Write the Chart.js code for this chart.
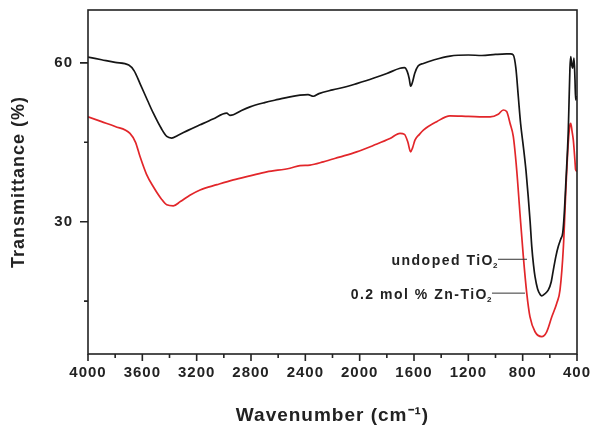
<!DOCTYPE html>
<html>
<head>
<meta charset="utf-8">
<script src="https://cdn.jsdelivr.net/npm/chart.js@4/dist/chart.umd.min.js"></script>
<style>
html, body { margin: 0; padding: 0; background: #fff; }
#wrap { width: 593px; height: 427px; position: relative; }
</style>
</head>
<body>
<div id="wrap"><canvas id="ftir"></canvas></div>
<script>
// tick labels
var xTickValues = [4000, 3600, 3200, 2800, 2400, 2000, 1600, 1200, 800, 400];
var yTickValues = [30, 60];
var yMinorTicks = [15, 45];

// undoped TiO2 (black)
var undopedWn = [4000, 3900, 3800, 3700, 3660, 3617, 3560, 3519, 3460, 3420,
  3384, 3340, 3260, 3175, 3080, 2979, 2955, 2930, 2870, 2807,
  2700, 2600, 2513, 2439, 2380, 2341, 2300, 2200, 2100, 2022,
  1900, 1800, 1703, 1670, 1650, 1635, 1625, 1612, 1595, 1570,
  1531, 1450, 1335, 1200, 1100, 1000, 918, 890, 869, 850,
  832, 815, 795, 775, 759, 745, 733, 720, 709, 690,
  670, 660, 640, 611, 590, 574, 555, 538, 520, 505,
  495, 481, 464, 452, 446, 438, 432, 422, 415, 410,
  402, 400];
var undopedT = [61.1, 60.6, 60.1, 59.6, 58.5, 56.1, 52.8, 50.5, 47.6, 46.1,
  45.8, 46.3, 47.3, 48.3, 49.4, 50.5, 50.1, 50.2, 51.0, 51.7,
  52.5, 53.1, 53.6, 53.9, 54.0, 53.7, 54.2, 54.9, 55.5, 56.1,
  57.1, 58.0, 59.0, 59.1, 58.4, 57.0, 55.6, 56.3, 58.0, 59.4,
  59.9, 60.6, 61.3, 61.5, 61.4, 61.6, 61.7, 61.7, 61.5, 59.0,
  53.6, 48.5, 44.2, 39.5, 34.7, 30.0, 25.3, 21.8, 19.6, 17.3,
  16.2, 16.0, 16.3, 17.1, 18.6, 20.9, 23.5, 25.3, 26.7, 27.9,
  31.0, 37.9, 47.3, 59.0, 61.2, 59.5, 59.0, 60.9, 57.0, 53.0,
  53.6, 53.5];

// 0.2 mol % Zn-TiO2 (red)
var dopedWn = [4000, 3900, 3800, 3691, 3650, 3617, 3570, 3519, 3460, 3420,
  3372, 3320, 3250, 3175, 3050, 2930, 2800, 2684, 2513, 2439,
  2366, 2268, 2150, 2022, 1900, 1777, 1703, 1670, 1645, 1625,
  1610, 1593, 1560, 1531, 1433, 1335, 1200, 1040, 980, 943,
  918, 893, 869, 844, 820, 795, 770, 746, 709, 660,
  623, 586, 549, 525, 500, 481, 464, 452, 446, 436,
  427, 415, 410, 400];
var dopedT = [49.8, 48.9, 48.0, 46.7, 45.0, 42.3, 39.0, 36.6, 34.3, 33.2,
  33.0, 33.8, 35.0, 36.0, 37.0, 37.9, 38.7, 39.4, 40.1, 40.6,
  40.7, 41.3, 42.2, 43.2, 44.4, 45.7, 46.7, 46.5, 45.0, 43.2,
  44.0, 45.4, 46.5, 47.3, 48.9, 50.0, 49.9, 49.8, 50.3, 51.1,
  50.8, 48.6, 46.1, 39.8, 31.6, 23.4, 16.5, 12.0, 9.2, 8.3,
  9.2, 12.0, 14.6, 17.1, 25.3, 36.6, 45.0, 48.3, 48.6, 47.0,
  45.4, 41.5, 39.8, 39.5];

// curve labels and where their pointer lines touch the curves
var curveLabels = ['undoped TiO', '0.2 mol % Zn-TiO'];
var labelAnchorWn = [768, 783];
var labelAnchorT = [22.9, 16.5];

var textColor = '#222';
var fontFamily = '"Liberation Sans", Arial, sans-serif';

function toPoints(xs, ys) {
  var pts = [];
  for (var i = 0; i < xs.length; i++) {
    pts.push({x: xs[i], y: ys[i]});
  }
  return pts;
}

// no extra room for half labels at the ends of the axes
function noEdgePadding(s) {
  s.paddingLeft = 0;
  s.paddingRight = 0;
  s.paddingTop = 0;
  s.paddingBottom = 0;
}

// frame, outward ticks and the curve labels
var axisDecor = {
  id: 'axisDecor',
  beforeLayout: function(chart) { chart.ctx.letterSpacing = '1px'; },
  beforeDraw: function(chart) { chart.ctx.letterSpacing = '1px'; },
  afterDraw: function(chart) {
    var ctx = chart.ctx;
    var area = chart.chartArea;
    var xs = chart.scales.x;
    var ys = chart.scales.y;
    ctx.save();
    ctx.strokeStyle = textColor;
    ctx.lineWidth = 1.6;
    ctx.strokeRect(area.left, area.top, area.right - area.left, area.bottom - area.top);

    ctx.beginPath();
    for (var i = 0; i < xTickValues.length; i++) {
      var px = xs.getPixelForValue(xTickValues[i]);
      ctx.moveTo(px, area.bottom);
      ctx.lineTo(px, area.bottom + 7);
      if (i < xTickValues.length - 1) {
        var pm = xs.getPixelForValue((xTickValues[i] + xTickValues[i + 1]) / 2);
        ctx.moveTo(pm, area.bottom);
        ctx.lineTo(pm, area.bottom + 4);
      }
    }
    for (var j = 0; j < yTickValues.length; j++) {
      var py = ys.getPixelForValue(yTickValues[j]);
      ctx.moveTo(area.left, py);
      ctx.lineTo(area.left - 8, py);
    }
    for (var k = 0; k < yMinorTicks.length; k++) {
      var pn = ys.getPixelForValue(yMinorTicks[k]);
      ctx.moveTo(area.left, pn);
      ctx.lineTo(area.left - 4, pn);
    }
    ctx.stroke();

    // labels with pointer lines
    var lineLen = [29, 33];
    ctx.lineWidth = 1;
    ctx.strokeStyle = '#333';
    ctx.fillStyle = textColor;
    for (var n = 0; n < curveLabels.length; n++) {
      var ax = xs.getPixelForValue(labelAnchorWn[n]);
      var ay = ys.getPixelForValue(labelAnchorT[n]);
      var sx = ax - lineLen[n];
      ctx.beginPath();
      ctx.moveTo(sx, ay);
      ctx.lineTo(ax, ay);
      ctx.stroke();
      ctx.letterSpacing = '1.5px';
      ctx.font = 'bold 14px ' + fontFamily;
      ctx.textAlign = 'right';
      ctx.textBaseline = 'alphabetic';
      ctx.fillText(curveLabels[n], sx - 4, ay + 6);
      ctx.letterSpacing = '0px';
      ctx.font = 'bold 8px ' + fontFamily;
      ctx.textAlign = 'left';
      ctx.fillText('2', sx - 5, ay + 9);
    }
    ctx.restore();
  }
};

var ctxFtir = document.getElementById('ftir');
var ftirChart = new Chart(ctxFtir, {
  type: 'line',
  data: {
    datasets: [{
      label: 'undoped TiO2',
      data: toPoints(undopedWn, undopedT),
      borderColor: '#151515',
      borderWidth: 1.7,
      pointRadius: 0,
      cubicInterpolationMode: 'monotone',
      fill: false
    }, {
      label: '0.2 mol % Zn-TiO2',
      data: toPoints(dopedWn, dopedT),
      borderColor: '#e2262a',
      borderWidth: 1.7,
      pointRadius: 0,
      cubicInterpolationMode: 'monotone',
      fill: false
    }]
  },
  options: {
    responsive: true,
    maintainAspectRatio: false,
    animation: false,
    layout: { autoPadding: false, padding: { top: 10, right: 16, left: 0, bottom: 0 } },
    plugins: {
      legend: { display: false },
      tooltip: { enabled: false }
    },
    scales: {
      x: {
        type: 'linear',
        reverse: true,
        min: 400,
        max: 4000,
        afterBuildTicks: function(s) {
          s.ticks = xTickValues.map(function(v) { return {value: v}; });
        },
        afterFit: function(s) { s.height = 73; noEdgePadding(s); },
        grid: { display: false, drawTicks: false },
        border: { display: false },
        ticks: {
          padding: 10,
          color: textColor,
          maxRotation: 0,
          autoSkip: false,
          callback: function(v) { return String(v); },
          font: { family: fontFamily, size: 15, weight: 'bold' }
        },
        title: {
          display: true,
          text: 'Wavenumber (cm⁻¹)',
          color: textColor,
          padding: { top: 0, bottom: 0 },
          font: { family: fontFamily, size: 19, weight: 'bold' }
        }
      },
      y: {
        min: 5,
        max: 70,
        afterBuildTicks: function(s) {
          s.ticks = yTickValues.map(function(v) { return {value: v}; });
        },
        afterFit: function(s) { s.width = 88; noEdgePadding(s); },
        grid: { display: false, drawTicks: false },
        border: { display: false },
        ticks: {
          padding: 15,
          color: textColor,
          font: { family: fontFamily, size: 15, weight: 'bold' }
        },
        title: {
          display: true,
          text: 'Transmittance (%)',
          color: textColor,
          padding: { top: 8, bottom: 0 },
          font: { family: fontFamily, size: 18, weight: 'bold' }
        }
      }
    }
  },
  plugins: [axisDecor]
});
</script>
</body>
</html>
